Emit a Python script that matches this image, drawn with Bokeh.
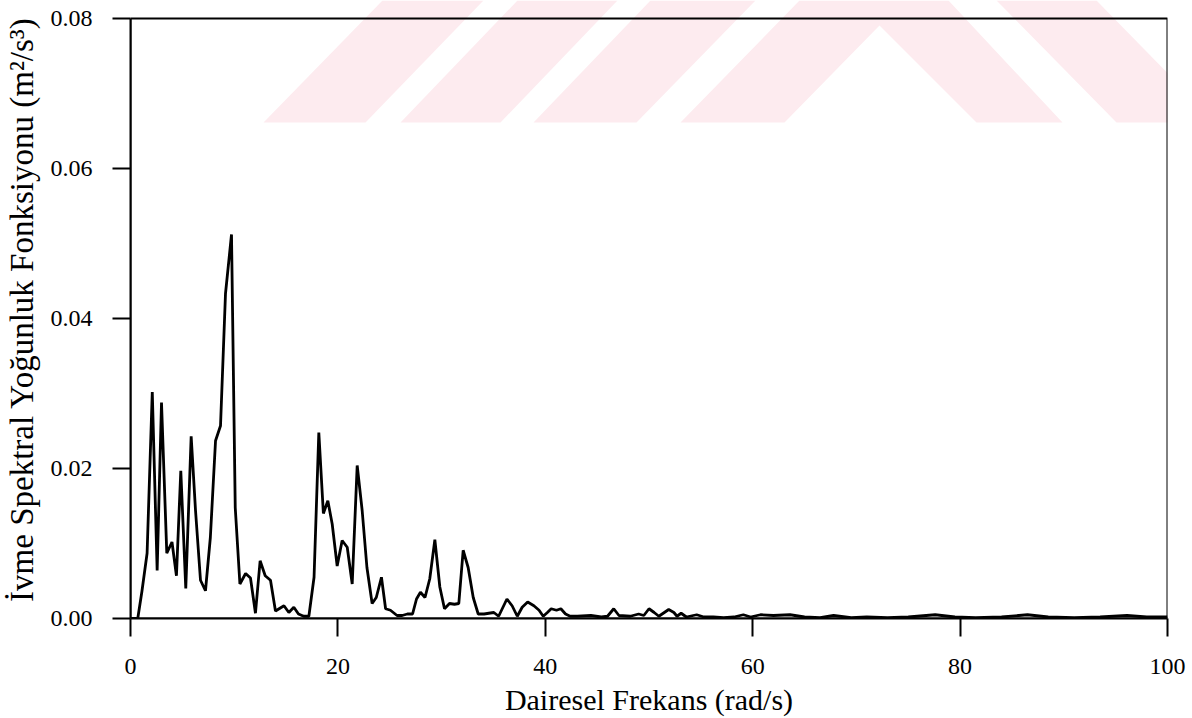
from bokeh.plotting import figure
from bokeh.models import (PolyAnnotation, BoxAnnotation, FixedTicker,
                          PrintfTickFormatter, Range1d)
from bokeh.embed import file_html
from bokeh.resources import INLINE

# Circular frequency (rad/s) and acceleration spectral density (m^2/s^3)
freq = [0, 0.7, 1.1, 1.6, 2.1, 2.57, 2.99, 3.5, 4.0, 4.43, 4.85, 5.33, 5.85, 6.27,
        6.75, 7.23, 7.7, 8.2, 8.68, 9.16, 9.74, 10.1, 10.55, 11.1, 11.57, 12.05,
        12.5, 12.99, 13.5, 13.98, 14.8, 15.27, 15.75, 16.2, 16.7, 17.2, 17.7,
        18.16, 18.6, 19.03, 19.45, 19.93, 20.41, 20.9, 21.38, 21.86, 22.34, 22.8,
        23.3, 23.7, 24.2, 24.6, 25.07, 25.7, 26.2, 26.7, 27.2, 27.58, 27.96, 28.4,
        28.86, 29.35, 29.83, 30.28, 30.76, 31.24, 31.66, 32.08, 32.56, 33.05,
        33.53, 34.1, 34.55, 35.04, 35.5, 36.3, 36.8, 37.3, 37.77, 38.3, 38.9,
        39.4, 39.8, 40.2, 40.57, 41.08, 41.5, 41.95, 42.4, 43.1, 44.4, 45.4, 46.0,
        46.6, 47.1, 48.2, 49.0, 49.5, 50.0, 50.5, 50.95, 51.9, 52.4, 52.7, 53.1,
        53.6, 54.6, 55.3, 56.2, 57.2, 58.2, 59.1, 59.8, 60.75, 62.0, 63.6, 65.0,
        66.5, 67.8, 69.5, 71.0, 73.0, 75.0, 77.6, 79.5, 81.5, 84.0, 86.5, 88.5,
        91.0, 93.5, 96.1, 98.0, 100.0]
psd = [0.0, 0.0, 0.0036, 0.0087, 0.0302, 0.0064, 0.0288, 0.0087, 0.0102, 0.0057,
       0.0197, 0.0040, 0.0243, 0.0144, 0.0051, 0.0037, 0.0108, 0.0237, 0.0257,
       0.0433, 0.0512, 0.0148, 0.0046, 0.0060, 0.0054, 0.0007, 0.0077, 0.0057,
       0.0051, 0.0010, 0.0017, 0.0008, 0.0015, 0.0006, 0.0003, 0.0003, 0.0055,
       0.0248, 0.0140, 0.0157, 0.0126, 0.0070, 0.0104, 0.0095, 0.0046, 0.0204,
       0.0144, 0.0068, 0.0020, 0.0028, 0.0055, 0.0013, 0.0011, 0.0004, 0.0004,
       0.0006, 0.0006, 0.0026, 0.0035, 0.0028, 0.0053, 0.0105, 0.0042, 0.0013,
       0.0020, 0.0019, 0.0020, 0.0091, 0.0068, 0.0028, 0.0006, 0.0006, 0.0007,
       0.0008, 0.0003, 0.0026, 0.0017, 0.0003, 0.0015, 0.0022, 0.0017, 0.0011,
       0.0003, 0.0008, 0.0013, 0.0011, 0.0013, 0.0006, 0.0003, 0.0003, 0.0004,
       0.0002, 0.0003, 0.0013, 0.0004, 0.0003, 0.0006, 0.0004, 0.0013, 0.0008,
       0.0003, 0.0012, 0.0008, 0.0003, 0.0007, 0.0002, 0.0005, 0.0002, 0.0002,
       0.0001, 0.0002, 0.0005, 0.0002, 0.0005, 0.0004, 0.0005, 0.0002, 0.0001,
       0.0004, 0.0001, 0.0002, 0.0001, 0.0002, 0.0005, 0.0002, 0.0001, 0.0002,
       0.0005, 0.0002, 0.0001, 0.0002, 0.0004, 0.0002, 0.0002]

x_ticks = [0, 20, 40, 60, 80, 100]
y_ticks = [0.00, 0.02, 0.04, 0.06, 0.08]
x_title = "Dairesel Frekans (rad/s)"
y_title = "İvme Spektral Yoğunluk Fonksiyonu (m²/s³)"
X_MIN, X_MAX = 0, 100
Y_MIN, Y_MAX = 0.0, 0.08

FONT = "Liberation Serif"
LEFT, BOTTOM, TOP_PAD = 130, 618, 18   # page pixels
PLOT_H = BOTTOM - TOP_PAD              # pixels between 0.00 and 0.08

# frame reaches the page top so the watermark can show above the 0.08 line;
# the visible plot box is drawn as an annotation at the data limits
y_top = Y_MAX * BOTTOM / PLOT_H

p = figure(width=1192, height=718, output_backend="svg", toolbar_location=None,
           x_range=Range1d(X_MIN, X_MAX), y_range=Range1d(Y_MIN, y_top),
           min_border_left=LEFT, min_border_right=25, min_border_top=0,
           min_border_bottom=718 - BOTTOM)

# background watermark (decorative), page-pixel outlines converted to frame screen units
wm = "#fdebef"
shapes = [
    ([263, 365, 483, 382], [122, 122, 0, 0]),
    ([400, 500, 617, 517], [122, 122, 0, 0]),
    ([533, 636, 755, 650], [122, 122, 0, 0]),
    ([680, 784, 879, 976, 1062, 948, 799], [122, 122, 25, 122, 122, 0, 0]),
    ([1116, 1192, 1192, 1096, 996], [122, 122, 98, 0, 0]),
]
for xs, ys in shapes:
    p.add_layout(PolyAnnotation(xs=[v - LEFT for v in xs],
                                ys=[BOTTOM - v for v in ys],
                                xs_units="screen", ys_units="screen",
                                fill_color=wm, fill_alpha=1.0, line_alpha=0,
                                level="underlay"))

p.add_layout(BoxAnnotation(left=X_MIN, right=X_MAX, bottom=Y_MIN, top=Y_MAX,
                           fill_alpha=0, line_color="black", line_alpha=1.0,
                           line_width=2, level="overlay"))

p.line(freq, psd, line_color="black", line_width=2.8)

p.grid.visible = False
p.outline_line_color = None
p.background_fill_alpha = 0
p.border_fill_alpha = 0

for ax in (p.xaxis[0], p.yaxis[0]):
    ax.axis_line_width = 2
    ax.major_tick_line_width = 2
    ax.major_tick_out = 18
    ax.major_tick_in = 0
    ax.minor_tick_line_color = None
    ax.major_label_text_font = FONT
    ax.major_label_text_font_size = "24px"
    ax.major_label_text_color = "black"
    ax.axis_label_text_font = FONT
    ax.axis_label_text_font_style = "normal"
    ax.axis_label_text_color = "black"

p.yaxis.bounds = (Y_MIN, Y_MAX)
p.xaxis.major_label_standoff = 22
p.yaxis.major_label_standoff = 20
p.xaxis.ticker = FixedTicker(ticks=x_ticks)
p.yaxis.ticker = FixedTicker(ticks=y_ticks)
p.yaxis.formatter = PrintfTickFormatter(format="%.2f")
p.xaxis.axis_label = x_title
p.yaxis.axis_label = y_title
p.xaxis.axis_label_text_font_size = "30px"
p.yaxis.axis_label_text_font_size = "33px"
p.xaxis.axis_label_standoff = 6
p.yaxis.axis_label_standoff = 8

open("out.html", "w").write(file_html(p, INLINE))
